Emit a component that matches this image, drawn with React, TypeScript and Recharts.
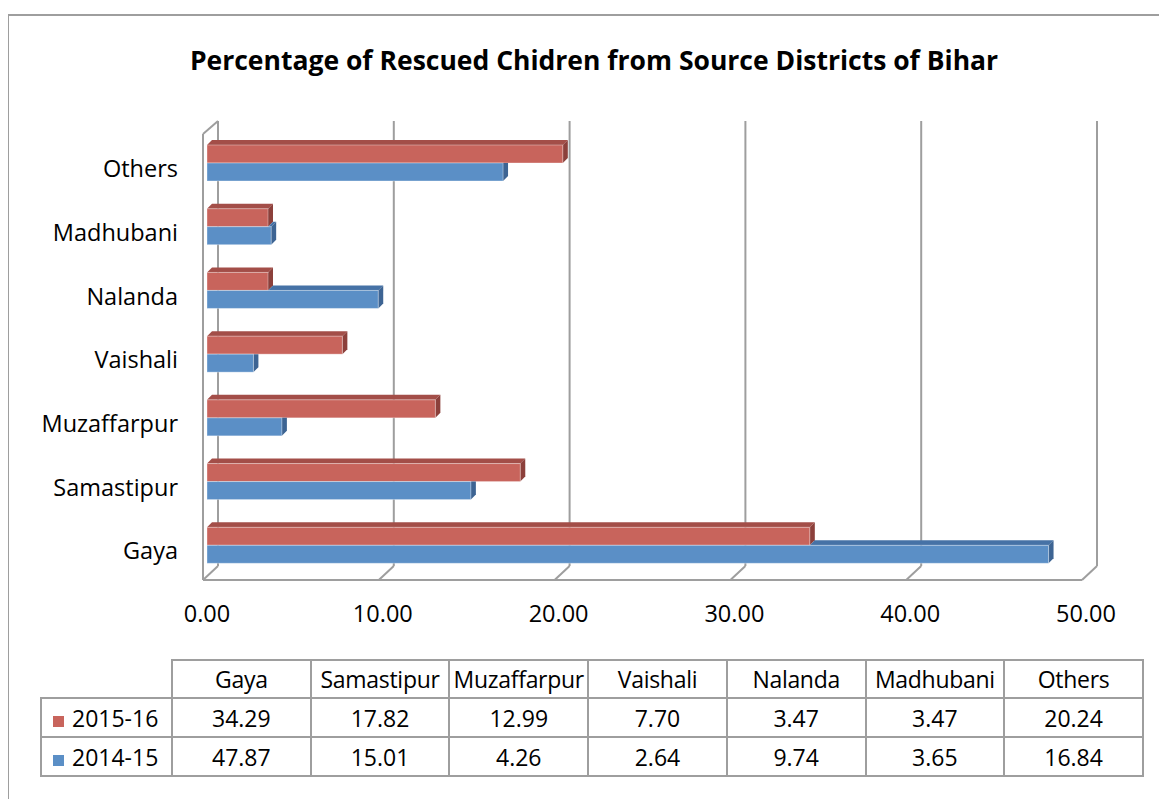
import React from "react";
import { BarChart, Bar, XAxis, YAxis, CartesianGrid } from "recharts";

const districts = ["Gaya", "Samastipur", "Muzaffarpur", "Vaishali", "Nalanda", "Madhubani", "Others"];
const series2015 = [34.29, 17.82, 12.99, 7.7, 3.47, 3.47, 20.24];
const series2014 = [47.87, 15.01, 4.26, 2.64, 9.74, 3.65, 16.84];
const xTicks = [0, 10, 20, 30, 40, 50];

const title = "Percentage of Rescued Chidren from Source Districts of Bihar";
const FONT = "'Open Sans', sans-serif";
const GRID = "#9E9E9E";
const DEPTH = 5;

const RED = { front: "#C8645C", top: "#A34E48", side: "#8C403B" };
const BLUE = { front: "#5B8FC6", top: "#4672A6", side: "#3D6493" };

const data = districts.map((name, i) => ({ name, y2015: series2015[i], y2014: series2014[i] }));

function Bar3D(props: any) {
  const { x, y, width, height, value, payload, colors, clipBy } = props;
  if (!width || width <= 0) return null;
  const d = DEPTH;
  const ex = x + width;
  let topStart = x;
  let sideTop = y - d;
  if (clipBy) {
    // the bar above this one hides whatever part of its top face it covers
    const k = width / value;
    const other = x + payload[clipBy] * k;
    topStart = Math.max(x, other);
    if (other >= ex) sideTop = y;
  }
  const side =
    sideTop === y
      ? `${ex},${y} ${ex + d},${y} ${ex + d},${y + height - d} ${ex},${y + height}`
      : `${ex},${y} ${ex + d},${y - d} ${ex + d},${y + height - d} ${ex},${y + height}`;
  return (
    <g>
      {topStart < ex && (
        <polygon
          points={`${topStart},${y} ${topStart + d},${y - d} ${ex + d},${y - d} ${ex},${y}`}
          fill={colors.top}
        />
      )}
      <polygon points={side} fill={colors.side} />
      <rect x={x} y={y} width={width} height={height} fill={colors.front} stroke="rgba(255,255,255,0.35)" strokeWidth={1} />
    </g>
  );
}

function gridLine(p: any) {
  const { x1, y1, y2, index } = p;
  return (
    <g key={p.key}>
      <line x1={x1 + 11} y1={y1 - 10} x2={x1 + 11} y2={y2 - 11} stroke={GRID} strokeWidth={2} />
      <line x1={x1 - 4} y1={y2 + 3} x2={x1 + 11} y2={y2 - 11} stroke={GRID} strokeWidth={2} />
      {index === 0 && <line x1={x1 - 4} y1={y1 + 3} x2={x1 + 11} y2={y1 - 10} stroke={GRID} strokeWidth={2} />}
    </g>
  );
}

const cellBorder = `2px solid ${GRID}`;

function DataTable() {
  const rows = [
    { label: "2015-16", color: RED.front, values: series2015 },
    { label: "2014-15", color: BLUE.front, values: series2014 },
  ];
  const colW = (1143 - 172) / districts.length;
  return (
    <table
      style={{
        position: "absolute",
        left: 40,
        top: 659,
        borderCollapse: "collapse",
        fontFamily: FONT,
        fontSize: 23,
        color: "#000",
        tableLayout: "fixed",
      }}
    >
      <tbody>
        <tr style={{ height: 38 }}>
          <td style={{ width: 130, padding: 0 }} />
          {districts.map((d) => (
            <td key={d} style={{ width: colW - 2, border: cellBorder, textAlign: "center", padding: 0, whiteSpace: "nowrap", letterSpacing: -0.3 }}>
              {d}
            </td>
          ))}
        </tr>
        {rows.map((r) => (
          <tr key={r.label} style={{ height: 39 }}>
            <td style={{ border: cellBorder, padding: 0, paddingLeft: 11, whiteSpace: "nowrap" }}>
              <span style={{ display: "inline-block", width: 11, height: 11, background: r.color, marginRight: 8 }} />
              {r.label}
            </td>
            {r.values.map((v, i) => (
              <td key={i} style={{ border: cellBorder, textAlign: "center", padding: 0 }}>
                {v.toFixed(2)}
              </td>
            ))}
          </tr>
        ))}
      </tbody>
    </table>
  );
}

export default function App() {
  return (
    <div style={{ position: "relative", margin: -8, width: 1167, height: 807, overflow: "hidden", background: "#fff", fontFamily: FONT }}>
      <div
        style={{
          position: "absolute",
          left: 7,
          top: 14,
          width: 1300,
          height: 900,
          borderLeft: cellBorder,
          borderTop: cellBorder,
        }}
      />
      <div
        style={{
          position: "absolute",
          left: 0,
          width: 1188,
          top: 42,
          textAlign: "center",
          fontWeight: 700,
          fontSize: 26.5,
          color: "#000",
        }}
      >
        {title}
      </div>
      <div style={{ position: "absolute", left: 0, top: 0 }}>
        <BarChart
          width={1167}
          height={660}
          data={data}
          layout="vertical"
          barGap={0}
          barSize={18}
          margin={{ top: 131, right: 81, left: 0, bottom: 53 }}
          style={{ overflow: "visible" }}
        >
          <CartesianGrid horizontal={false} vertical={gridLine} />
          <XAxis
            type="number"
            domain={[0, 50]}
            ticks={xTicks}
            tickFormatter={(v: number) => v.toFixed(2)}
            tickSize={0}
            tickMargin={28}
            tick={{ fill: "#000", fontSize: 23.5, fontFamily: FONT }}
            axisLine={{ stroke: GRID, strokeWidth: 2, transform: "translate(-4,3)" }}
            height={30}
          />
          <YAxis
            type="category"
            dataKey="name"
            reversed
            width={207}
            tickSize={0}
            tickMargin={29}
            tick={{ fill: "#000", fontSize: 23.5, fontFamily: FONT, dy: 6 }}
            axisLine={{ stroke: GRID, strokeWidth: 2, transform: "translate(-4,3)" }}
          />
          <Bar dataKey="y2015" isAnimationActive={false} shape={(p: any) => <Bar3D {...p} colors={RED} />} />
          <Bar dataKey="y2014" isAnimationActive={false} shape={(p: any) => <Bar3D {...p} colors={BLUE} clipBy="y2015" />} />
        </BarChart>
      </div>
      <DataTable />
    </div>
  );
}
